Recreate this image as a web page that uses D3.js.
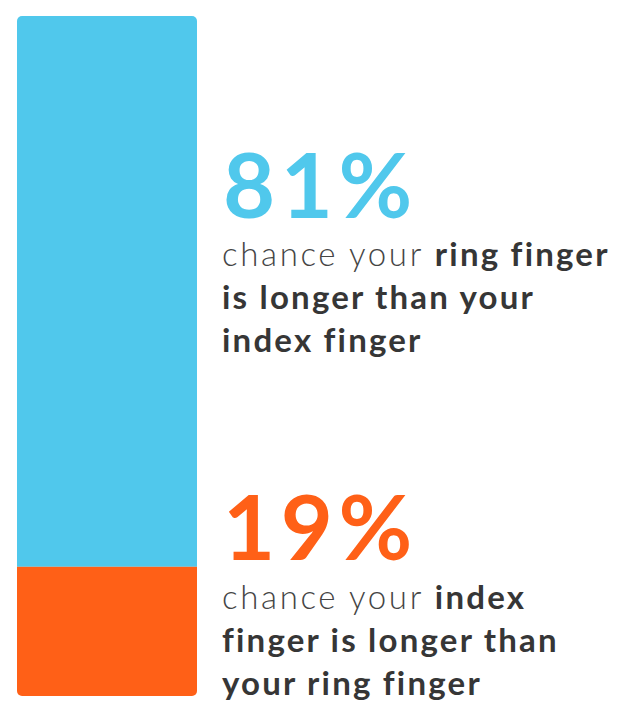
<!DOCTYPE html>
<html>
<head>
<meta charset="utf-8">
<script src="https://cdn.jsdelivr.net/npm/d3@7"></script>
<style>
  html, body { margin: 0; padding: 0; background: #fff; }
  svg { display: block; }
</style>
</head>
<body>
<svg id="chart" width="622" height="703"></svg>
<script>
// Share of people for each finger-length outcome (percent)
const categories = ["ring", "index"];
const shares = [81, 19];
const colors = ["#50C8EC", "#FF6017"];
// Description lines; segments wrapped in * are drawn bold
const descriptions = [
  ["chance your *ring finger*", "*is longer than your*", "*index finger*"],
  ["chance your *index*", "*finger is longer than*", "*your ring finger*"]
];

const width = 622, height = 703;
const bar = { x: 17, top: 16, bottom: 696, w: 180, r: 5 };
const textX = 222;
const bigBaseline = [218, 560];
const lineBaseline = [266, 609];
const lineStep = 43;

const svg = d3.select("#chart");

const y = d3.scaleLinear().domain([0, 100]).range([bar.top, bar.bottom]);

// stacked segments, top to bottom
const stacked = [];
let acc = 0;
shares.forEach((v, i) => {
  stacked.push({ key: categories[i], v, y0: acc, y1: acc + v, color: colors[i], i });
  acc += v;
});

svg.append("defs").append("clipPath").attr("id", "barClip")
  .append("rect")
  .attr("x", bar.x).attr("y", y(0))
  .attr("width", bar.w).attr("height", y(100) - y(0))
  .attr("rx", bar.r).attr("ry", bar.r);

svg.append("g").attr("clip-path", "url(#barClip)")
  .selectAll("rect").data(stacked).join("rect")
  .attr("x", bar.x)
  .attr("y", d => y(d.y0))
  .attr("width", bar.w)
  .attr("height", d => y(d.y1) - y(d.y0))
  .attr("fill", d => d.color);

const font = "Lato, 'Open Sans', sans-serif";

const labels = svg.append("g").selectAll("g").data(stacked).join("g");

labels.append("text")
  .attr("x", textX + 1)
  .attr("y", d => bigBaseline[d.i])
  .attr("font-family", font)
  .attr("font-weight", 700)
  .attr("font-size", 90)
  .attr("letter-spacing", 5.5)
  .attr("fill", d => d.color)
  .text(d => d.v + "%");

labels.each(function(d) {
  const g = d3.select(this);
  descriptions[d.i].forEach((line, li) => {
    const t = g.append("text")
      .attr("x", textX)
      .attr("y", lineBaseline[d.i] + li * lineStep)
      .attr("font-family", font)
      .attr("font-size", 33);
    line.split(/(\*[^*]+\*)/).filter(s => s.length).forEach(part => {
      const bold = part.startsWith("*");
      t.append("tspan")
        .attr("font-weight", bold ? 700 : 300)
        .attr("fill", bold ? "#363636" : "#454545")
        .attr("letter-spacing", bold ? 2.2 : 2.65)
        .text(bold ? part.slice(1, -1) : part);
    });
  });
});
</script>
</body>
</html>
